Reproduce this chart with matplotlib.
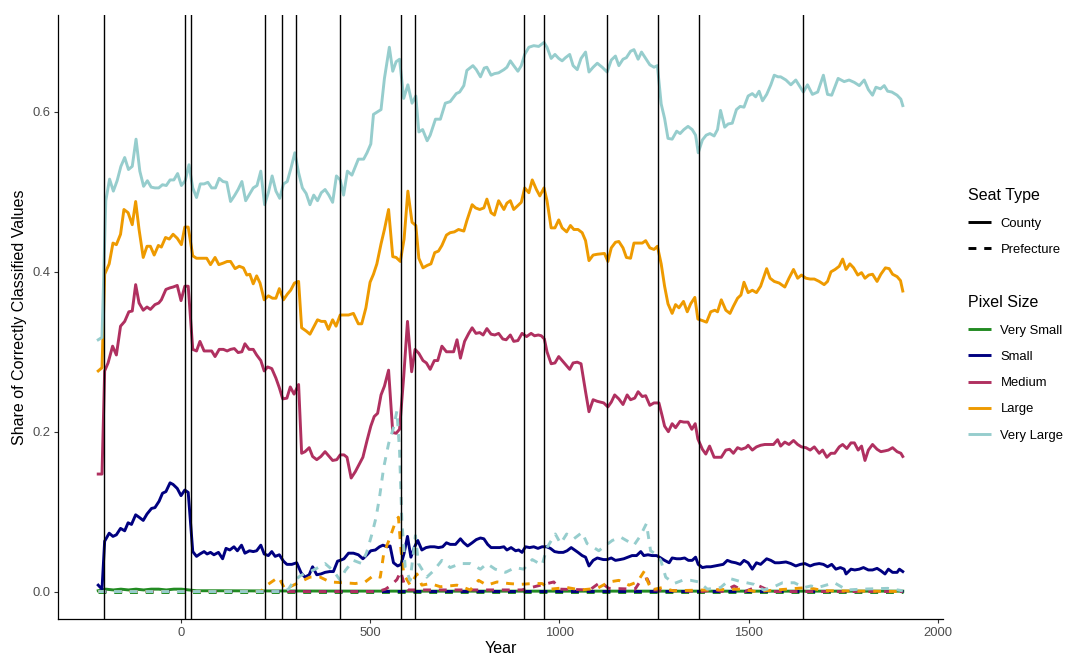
import matplotlib
matplotlib.use("Agg")
import matplotlib.pyplot as plt
from matplotlib.lines import Line2D

plt.rcParams['font.family'] = ['Liberation Sans', 'DejaVu Sans']

# ---------------- data ----------------
pixel_sizes = ["Very Small", "Small", "Medium", "Large", "Very Large"]
seat_types = ["County", "Prefecture"]
colors = {"Very Small": "#228B22", "Small": "#000080", "Medium": "#B03060",
          "Large": "#EE9A00", "Very Large": "#96CDCD"}

breaks_years = [-206, 9, 25, 220, 265, 304, 420, 581, 618, 907, 960, 1127, 1260, 1368, 1644]

# Very Small - County
yr_vs_c = [-220, -200, -180, -160, -140, -120, -100, -80, -60, -40, -20, 0, 20, 40, 100, 200,
           400, 600, 800, 1000, 1200, 1400, 1600, 1800, 1908]
vs_c = [0.001, 0.003, 0.002, 0.003, 0.002, 0.003, 0.002, 0.003, 0.003, 0.002, 0.003, 0.003, 0.002,
        0.001, 0.001, 0.0008, 0.0006, 0.0005, 0.0005, 0.0005, 0.0005, 0.0005, 0.0005, 0.0005, 0.0005]

# Very Small - Prefecture
yr_vs_p = [-220, 400, 1000, 1908]
vs_p = [0.0, 0.0, 0.0, 0.0]

# Small - County
yr_s_c = [-220, -210, -203, -191, -181, -172, -161, -150, -141, -132, -121, -112, -101, -91, -79, -70,
          -59, -50, -41, -30, -22, -11, -1, 9, 18, 30, 40, 49, 60, 68, 77, 86, 98, 109, 118, 128, 139,
          148, 159, 168, 180, 190, 199, 210, 219, 230, 239, 248, 259, 270, 279, 292, 305, 317, 327,
          338, 347, 358, 369, 380, 392, 402, 413, 420, 430, 442, 455, 468, 480, 491, 501, 513, 524,
          533, 544, 552, 561, 572, 581, 589, 598, 607, 616, 625, 636, 647, 658, 669, 680, 691, 701,
          711, 725, 738, 747, 757, 769, 780, 791, 800, 810, 819, 831, 842, 853, 861, 872, 884, 892,
          901, 910, 921, 932, 943, 954, 966, 976, 987, 998, 1010, 1020, 1031, 1040, 1049, 1060, 1069,
          1078, 1089, 1100, 1116, 1126, 1137, 1148, 1160, 1170, 1181, 1192, 1204, 1215, 1223, 1234,
          1245, 1257, 1268, 1278, 1290, 1298, 1310, 1320, 1331, 1341, 1351, 1360, 1367, 1378, 1389,
          1400, 1411, 1422, 1433, 1444, 1455, 1466, 1478, 1488, 1499, 1510, 1521, 1532, 1548, 1559,
          1570, 1581, 1599, 1612, 1625, 1637, 1649, 1663, 1674, 1687, 1698, 1709, 1720, 1731, 1743,
          1753, 1758, 1771, 1781, 1793, 1804, 1817, 1828, 1840, 1850, 1861, 1870, 1881, 1893, 1899, 1908]
s_c = [0.008, 0.003, 0.063, 0.073, 0.069, 0.071, 0.079, 0.076, 0.086, 0.084, 0.096, 0.093, 0.089, 0.097,
       0.104, 0.105, 0.113, 0.123, 0.125, 0.136, 0.134, 0.129, 0.120, 0.127, 0.124, 0.050, 0.044, 0.047,
       0.050, 0.047, 0.049, 0.046, 0.049, 0.041, 0.054, 0.052, 0.056, 0.051, 0.058, 0.048, 0.051, 0.050,
       0.051, 0.058, 0.047, 0.045, 0.050, 0.044, 0.046, 0.038, 0.034, 0.034, 0.036, 0.023, 0.018, 0.021,
       0.031, 0.021, 0.022, 0.024, 0.025, 0.025, 0.038, 0.039, 0.041, 0.048, 0.048, 0.046, 0.041, 0.046,
       0.051, 0.052, 0.056, 0.058, 0.056, 0.057, 0.036, 0.032, 0.034, 0.048, 0.069, 0.043, 0.055, 0.064,
       0.052, 0.055, 0.056, 0.056, 0.055, 0.056, 0.061, 0.059, 0.059, 0.066, 0.061, 0.057, 0.061, 0.065,
       0.067, 0.066, 0.059, 0.055, 0.055, 0.055, 0.056, 0.052, 0.055, 0.051, 0.052, 0.049, 0.056, 0.055,
       0.056, 0.054, 0.056, 0.056, 0.054, 0.050, 0.049, 0.049, 0.051, 0.055, 0.052, 0.049, 0.045, 0.043,
       0.032, 0.039, 0.042, 0.040, 0.040, 0.042, 0.039, 0.040, 0.041, 0.043, 0.045, 0.045, 0.050, 0.045,
       0.046, 0.045, 0.045, 0.042, 0.039, 0.036, 0.042, 0.041, 0.041, 0.042, 0.039, 0.039, 0.043, 0.034,
       0.030, 0.031, 0.031, 0.032, 0.033, 0.034, 0.039, 0.037, 0.036, 0.034, 0.039, 0.036, 0.028, 0.036,
       0.034, 0.041, 0.039, 0.036, 0.036, 0.037, 0.035, 0.032, 0.034, 0.035, 0.032, 0.034, 0.035, 0.034,
       0.031, 0.034, 0.028, 0.030, 0.028, 0.022, 0.028, 0.027, 0.028, 0.030, 0.027, 0.027, 0.029, 0.026,
       0.022, 0.028, 0.024, 0.024, 0.028, 0.025]

# Small - Prefecture
yr_s_p = [-220, 400, 1000, 1908]
s_p = [0.0005, 0.0005, 0.0005, 0.0005]

# Medium - County
yr_m_c = [-220, -210, -203, -194, -182, -172, -161, -150, -139, -130, -121, -112, -101, -91, -82, -70,
          -60, -53, -41, -30, -22, -11, -1, 9, 18, 30, 40, 49, 60, 71, 80, 89, 100, 111, 121, 130, 140,
          150, 160, 168, 179, 190, 199, 210, 219, 228, 239, 250, 259, 268, 279, 288, 298, 310, 318, 327,
          338, 347, 358, 369, 380, 391, 400, 411, 420, 430, 438, 449, 460, 471, 480, 491, 501, 510, 519,
          528, 537, 548, 559, 568, 577, 588, 598, 609, 618, 628, 639, 648, 658, 669, 678, 689, 701, 711,
          720, 729, 738, 749, 760, 769, 779, 789, 798, 808, 819, 829, 839, 850, 859, 870, 879, 890, 901,
          913, 925, 934, 944, 952, 960, 967, 978, 988, 998, 1007, 1018, 1027, 1036, 1047, 1057, 1069,
          1078, 1089, 1100, 1117, 1128, 1137, 1146, 1157, 1168, 1179, 1188, 1199, 1208, 1219, 1228, 1239,
          1250, 1263, 1272, 1278, 1288, 1298, 1307, 1319, 1329, 1340, 1350, 1359, 1366, 1378, 1387, 1397,
          1409, 1418, 1428, 1440, 1450, 1460, 1471, 1481, 1493, 1499, 1510, 1521, 1532, 1543, 1555, 1566,
          1577, 1585, 1596, 1607, 1619, 1630, 1640, 1652, 1663, 1674, 1687, 1696, 1707, 1718, 1728, 1740,
          1749, 1760, 1771, 1780, 1790, 1799, 1808, 1817, 1828, 1840, 1850, 1861, 1870, 1881, 1893, 1903, 1908]
m_c = [0.147, 0.147, 0.276, 0.286, 0.307, 0.296, 0.332, 0.338, 0.350, 0.351, 0.384, 0.361, 0.352, 0.356,
       0.353, 0.359, 0.361, 0.365, 0.378, 0.380, 0.381, 0.383, 0.364, 0.382, 0.382, 0.303, 0.301, 0.313,
       0.301, 0.301, 0.301, 0.294, 0.303, 0.303, 0.301, 0.303, 0.304, 0.299, 0.300, 0.310, 0.303, 0.303,
       0.296, 0.289, 0.276, 0.281, 0.279, 0.267, 0.255, 0.241, 0.242, 0.256, 0.247, 0.259, 0.173, 0.175,
       0.180, 0.169, 0.165, 0.169, 0.175, 0.169, 0.164, 0.165, 0.171, 0.171, 0.168, 0.142, 0.150, 0.160,
       0.168, 0.189, 0.207, 0.219, 0.223, 0.246, 0.257, 0.277, 0.199, 0.198, 0.203, 0.269, 0.338, 0.275,
       0.303, 0.298, 0.289, 0.286, 0.278, 0.289, 0.289, 0.307, 0.300, 0.300, 0.300, 0.315, 0.292, 0.313,
       0.323, 0.330, 0.323, 0.324, 0.321, 0.329, 0.322, 0.321, 0.323, 0.316, 0.315, 0.321, 0.313, 0.314,
       0.323, 0.319, 0.323, 0.320, 0.321, 0.320, 0.316, 0.300, 0.285, 0.286, 0.294, 0.289, 0.283, 0.278,
       0.286, 0.287, 0.285, 0.250, 0.225, 0.240, 0.238, 0.236, 0.231, 0.237, 0.246, 0.241, 0.234, 0.246,
       0.240, 0.242, 0.250, 0.244, 0.245, 0.233, 0.236, 0.236, 0.219, 0.207, 0.200, 0.210, 0.205, 0.213,
       0.212, 0.212, 0.203, 0.210, 0.191, 0.178, 0.172, 0.182, 0.168, 0.168, 0.168, 0.177, 0.178, 0.173,
       0.180, 0.178, 0.180, 0.183, 0.177, 0.181, 0.183, 0.184, 0.184, 0.184, 0.190, 0.182, 0.187, 0.184,
       0.189, 0.184, 0.181, 0.180, 0.177, 0.181, 0.173, 0.177, 0.168, 0.173, 0.173, 0.181, 0.184, 0.179,
       0.186, 0.186, 0.177, 0.182, 0.164, 0.177, 0.184, 0.178, 0.175, 0.176, 0.177, 0.180, 0.175, 0.173,
       0.169]

# Medium - Prefecture
yr_m_p = [-220, 520, 540, 555, 570, 580, 590, 600, 700, 800, 900, 950, 985, 1000, 1080, 1109, 1130,
          1200, 1215, 1232, 1245, 1380, 1409, 1430, 1462, 1490, 1528, 1560, 1908]
m_p = [0.0, 0.0, 0.003, 0.008, 0.015, 0.025, 0.008, 0.002, 0.002, 0.002, 0.002, 0.008, 0.012, 0.003,
       0.002, 0.012, 0.004, 0.003, 0.014, 0.016, 0.002, 0.0, 0.003, 0.0, 0.007, 0.0, 0.007, 0.0, 0.0]

# Large - County
yr_l_c = [-220, -210, -203, -191, -181, -172, -161, -152, -141, -130, -121, -112, -101, -91, -82, -72,
          -61, -53, -42, -32, -22, -11, 0, 9, 18, 30, 40, 53, 67, 77, 89, 99, 111, 121, 130, 142, 153,
          164, 173, 181, 190, 199, 208, 219, 230, 241, 250, 259, 270, 280, 289, 299, 310, 318, 330, 340,
          349, 360, 370, 380, 389, 400, 409, 420, 430, 442, 455, 468, 477, 488, 499, 508, 517, 528, 537,
          548, 559, 568, 579, 589, 599, 610, 620, 628, 639, 650, 660, 670, 680, 689, 701, 711, 722, 733,
          747, 755, 769, 778, 789, 800, 808, 819, 828, 839, 853, 861, 870, 879, 890, 899, 908, 919, 928,
          939, 948, 959, 967, 978, 988, 998, 1007, 1019, 1029, 1038, 1049, 1060, 1069, 1078, 1089, 1100,
          1119, 1128, 1137, 1148, 1157, 1168, 1177, 1188, 1197, 1208, 1219, 1228, 1239, 1250, 1259, 1269,
          1278, 1287, 1298, 1307, 1316, 1328, 1338, 1347, 1358, 1366, 1378, 1389, 1400, 1411, 1418, 1428,
          1440, 1451, 1460, 1471, 1480, 1488, 1499, 1510, 1521, 1532, 1548, 1557, 1568, 1581, 1596, 1607,
          1619, 1630, 1640, 1652, 1663, 1674, 1687, 1700, 1709, 1718, 1729, 1740, 1749, 1758, 1768, 1778,
          1789, 1799, 1808, 1818, 1828, 1840, 1850, 1862, 1872, 1881, 1893, 1902, 1908]
l_c = [0.276, 0.280, 0.397, 0.410, 0.436, 0.434, 0.447, 0.478, 0.474, 0.459, 0.488, 0.453, 0.418, 0.432,
       0.432, 0.421, 0.433, 0.431, 0.443, 0.441, 0.447, 0.442, 0.434, 0.456, 0.456, 0.420, 0.417, 0.417,
       0.417, 0.409, 0.418, 0.409, 0.411, 0.413, 0.413, 0.404, 0.407, 0.405, 0.396, 0.397, 0.385, 0.395,
       0.386, 0.365, 0.370, 0.367, 0.367, 0.379, 0.365, 0.372, 0.377, 0.386, 0.388, 0.330, 0.326, 0.322,
       0.330, 0.340, 0.338, 0.338, 0.328, 0.340, 0.332, 0.346, 0.346, 0.346, 0.348, 0.335, 0.335, 0.355,
       0.387, 0.397, 0.410, 0.435, 0.453, 0.478, 0.419, 0.418, 0.413, 0.441, 0.501, 0.462, 0.458, 0.417,
       0.405, 0.408, 0.410, 0.424, 0.426, 0.433, 0.446, 0.449, 0.450, 0.453, 0.451, 0.464, 0.484, 0.480,
       0.478, 0.480, 0.491, 0.474, 0.471, 0.489, 0.478, 0.486, 0.489, 0.478, 0.483, 0.487, 0.505, 0.499,
       0.515, 0.503, 0.495, 0.505, 0.489, 0.455, 0.455, 0.465, 0.455, 0.450, 0.458, 0.453, 0.453, 0.449,
       0.439, 0.414, 0.421, 0.422, 0.423, 0.413, 0.430, 0.437, 0.438, 0.430, 0.418, 0.417, 0.436, 0.436,
       0.436, 0.439, 0.430, 0.428, 0.432, 0.410, 0.382, 0.360, 0.348, 0.359, 0.355, 0.363, 0.350, 0.360,
       0.368, 0.341, 0.339, 0.337, 0.350, 0.352, 0.350, 0.365, 0.352, 0.348, 0.357, 0.367, 0.371, 0.387,
       0.374, 0.377, 0.374, 0.382, 0.404, 0.392, 0.388, 0.386, 0.381, 0.392, 0.403, 0.392, 0.396, 0.392,
       0.391, 0.391, 0.388, 0.384, 0.388, 0.400, 0.403, 0.407, 0.416, 0.403, 0.410, 0.405, 0.396, 0.399,
       0.392, 0.396, 0.397, 0.388, 0.397, 0.405, 0.404, 0.397, 0.394, 0.389, 0.376]

# Large - Prefecture
yr_l_p = [-220, 210, 226, 257, 274, 314, 340, 367, 393, 429, 460, 486, 508, 526, 535, 552, 566, 574,
          581, 588, 605, 623, 636, 658, 685, 729, 764, 786, 808, 835, 866, 897, 928, 954, 976, 1020,
          1056, 1100, 1131, 1157, 1184, 1206, 1225, 1232, 1243, 1272, 1300, 1480, 1520, 1656, 1700, 1908]
l_p = [0.0, 0.0, 0.008, 0.018, 0.003, 0.012, 0.018, 0.018, 0.012, 0.011, 0.010, 0.012, 0.020, 0.018,
       0.047, 0.068, 0.087, 0.093, 0.051, 0.022, 0.008, 0.022, 0.008, 0.010, 0.006, 0.008, 0.002, 0.014,
       0.008, 0.012, 0.010, 0.009, 0.010, 0.010, 0.003, 0.005, 0.002, 0.004, 0.012, 0.014, 0.008, 0.012,
       0.026, 0.014, 0.002, 0.005, 0.001, 0.003, 0.0, 0.005, 0.001, 0.0]

# Very Large - County
yr_vl_c = [-220, -210, -200, -190, -180, -170, -160, -150, -140, -130, -120, -110, -100, -90, -80, -70,
           -60, -50, -40, -30, -20, -10, 0, 10, 20, 30, 40, 50, 60, 70, 80, 90, 100, 110, 120, 130, 140,
           150, 160, 170, 180, 190, 200, 210, 220, 230, 240, 250, 260, 270, 280, 290, 300, 310, 320, 330,
           340, 350, 360, 370, 380, 390, 400, 410, 420, 429, 439, 451, 468, 482, 491, 501, 508, 528, 537,
           550, 559, 568, 577, 588, 599, 610, 620, 628, 638, 650, 658, 672, 685, 698, 711, 727, 736, 747,
           755, 771, 780, 791, 801, 808, 819, 828, 839, 853, 861, 870, 879, 890, 899, 908, 919, 932, 945,
           959, 967, 978, 988, 998, 1007, 1016, 1027, 1036, 1047, 1057, 1069, 1078, 1089, 1100, 1113, 1126,
           1137, 1148, 1157, 1168, 1177, 1188, 1197, 1208, 1217, 1228, 1239, 1250, 1259, 1269, 1278, 1287,
           1298, 1310, 1319, 1329, 1340, 1351, 1360, 1367, 1378, 1388, 1398, 1409, 1418, 1426, 1437, 1446,
           1457, 1468, 1478, 1488, 1499, 1510, 1519, 1528, 1537, 1548, 1559, 1568, 1578, 1585, 1599, 1612,
           1625, 1637, 1645, 1656, 1669, 1683, 1698, 1709, 1720, 1737, 1753, 1766, 1780, 1793, 1806, 1817,
           1828, 1837, 1849, 1859, 1868, 1879, 1893, 1903, 1908]
vl_c = [0.315, 0.318, 0.489, 0.516, 0.501, 0.514, 0.532, 0.543, 0.528, 0.532, 0.566, 0.526, 0.507, 0.514,
        0.506, 0.505, 0.505, 0.509, 0.508, 0.515, 0.515, 0.523, 0.508, 0.514, 0.534, 0.505, 0.493, 0.510,
        0.510, 0.512, 0.505, 0.505, 0.517, 0.513, 0.512, 0.488, 0.495, 0.503, 0.513, 0.489, 0.497, 0.505,
        0.508, 0.526, 0.484, 0.499, 0.520, 0.501, 0.492, 0.510, 0.513, 0.530, 0.549, 0.524, 0.505, 0.498,
        0.484, 0.496, 0.489, 0.499, 0.503, 0.496, 0.487, 0.520, 0.515, 0.496, 0.526, 0.521, 0.541, 0.541,
        0.549, 0.560, 0.597, 0.603, 0.642, 0.681, 0.651, 0.663, 0.666, 0.617, 0.634, 0.611, 0.620, 0.575,
        0.578, 0.564, 0.571, 0.591, 0.591, 0.611, 0.613, 0.623, 0.625, 0.633, 0.652, 0.658, 0.653, 0.644,
        0.655, 0.656, 0.646, 0.648, 0.649, 0.653, 0.656, 0.664, 0.658, 0.651, 0.658, 0.672, 0.681, 0.683,
        0.682, 0.687, 0.681, 0.667, 0.672, 0.667, 0.664, 0.668, 0.672, 0.658, 0.653, 0.667, 0.675, 0.650,
        0.656, 0.661, 0.656, 0.650, 0.665, 0.670, 0.658, 0.666, 0.668, 0.676, 0.678, 0.666, 0.675, 0.667,
        0.659, 0.656, 0.658, 0.610, 0.592, 0.567, 0.566, 0.576, 0.573, 0.578, 0.582, 0.578, 0.571, 0.549,
        0.565, 0.571, 0.573, 0.570, 0.578, 0.602, 0.581, 0.585, 0.586, 0.603, 0.607, 0.606, 0.620, 0.623,
        0.619, 0.626, 0.614, 0.622, 0.634, 0.646, 0.644, 0.644, 0.640, 0.634, 0.640, 0.631, 0.625, 0.634,
        0.622, 0.625, 0.646, 0.622, 0.621, 0.642, 0.638, 0.640, 0.637, 0.633, 0.640, 0.628, 0.621, 0.631,
        0.629, 0.633, 0.626, 0.625, 0.621, 0.616, 0.608]

# Very Large - Prefecture
yr_vl_p = [-220, 270, 283, 296, 315, 354, 380, 402, 420, 433, 455, 477, 490, 504, 515, 524, 535, 548,
           561, 570, 577, 583, 592, 605, 619, 627, 649, 667, 689, 711, 738, 764, 791, 808, 830, 857, 883,
           905, 928, 954, 967, 989, 1003, 1019, 1038, 1060, 1073, 1091, 1104, 1117, 1140, 1162, 1184,
           1197, 1213, 1230, 1241, 1254, 1268, 1281, 1303, 1325, 1347, 1369, 1391, 1426, 1453, 1475, 1515,
           1540, 1563, 1590, 1621, 1647, 1665, 1683, 1727, 1760, 1800, 1868, 1908]
vl_p = [0.0, 0.0, 0.003, 0.012, 0.020, 0.028, 0.035, 0.026, 0.014, 0.026, 0.039, 0.035, 0.049, 0.072,
        0.093, 0.118, 0.155, 0.185, 0.205, 0.226, 0.176, 0.089, 0.030, 0.014, 0.070, 0.035, 0.018, 0.026,
        0.039, 0.030, 0.035, 0.035, 0.028, 0.035, 0.028, 0.024, 0.030, 0.028, 0.040, 0.033, 0.055, 0.072,
        0.060, 0.072, 0.066, 0.074, 0.060, 0.055, 0.051, 0.056, 0.064, 0.068, 0.062, 0.058, 0.069, 0.085,
        0.051, 0.047, 0.039, 0.018, 0.010, 0.014, 0.014, 0.012, 0.003, 0.005, 0.016, 0.013, 0.009, 0.002,
        0.005, 0.011, 0.011, 0.005, 0.007, 0.005, 0.011, 0.002, 0.003, 0.004, 0.001]

series = {
    ("Very Small", "County"): (yr_vs_c, vs_c),
    ("Very Small", "Prefecture"): (yr_vs_p, vs_p),
    ("Small", "County"): (yr_s_c, s_c),
    ("Small", "Prefecture"): (yr_s_p, s_p),
    ("Medium", "County"): (yr_m_c, m_c),
    ("Medium", "Prefecture"): (yr_m_p, m_p),
    ("Large", "County"): (yr_l_c, l_c),
    ("Large", "Prefecture"): (yr_l_p, l_p),
    ("Very Large", "County"): (yr_vl_c, vl_c),
    ("Very Large", "Prefecture"): (yr_vl_p, vl_p),
}

# ---------------- figure ----------------
fig = plt.figure(figsize=(10.66, 6.55), dpi=100)
ax = fig.add_axes([58 / 1066, 36 / 655, 885 / 1066, 604 / 655])

LW = 2.1
dash = (0, (2.7, 2.7))
TITLE_FS = 11.5
LABEL_FS = 9.4

for ps in pixel_sizes:
    for st in seat_types:
        x, y = series[(ps, st)]
        ax.plot(x, y, color=colors[ps], lw=LW,
                linestyle='-' if st == "County" else dash,
                solid_joinstyle='round', dash_capstyle='butt')

for b in breaks_years:
    ax.axvline(b, color='black', lw=1.0, zorder=5)

xmin, xmax = -220, 1908
xr = xmax - xmin
ax.set_xlim(xmin - 0.05 * xr, xmax + 0.05 * xr)
ymax = 0.687
ax.set_ylim(-0.05 * ymax, ymax * 1.05)

ax.set_xticks([0, 500, 1000, 1500, 2000])
ax.set_yticks([0.0, 0.2, 0.4, 0.6])
ax.set_yticklabels(["0.0", "0.2", "0.4", "0.6"])

for s in ['top', 'right']:
    ax.spines[s].set_visible(False)
for s in ['left', 'bottom']:
    ax.spines[s].set_color('black')
    ax.spines[s].set_linewidth(0.9)

ax.tick_params(axis='both', which='major', length=3, width=0.8, color='#333333',
               labelcolor='#4D4D4D', labelsize=LABEL_FS, pad=2.5)

ax.set_xlabel("Year", fontsize=TITLE_FS, color='black', labelpad=2)
ax.set_ylabel("Share of Correctly Classified Values", fontsize=TITLE_FS, color='black', labelpad=4)

# legends
def key(color, ls):
    return Line2D([0], [0], color=color, lw=LW, linestyle=ls,
                  solid_capstyle='butt', dash_capstyle='butt')

seat_handles = [key('black', '-'), key('black', dash)]
leg_kw = dict(loc='upper left', frameon=False, fontsize=LABEL_FS, title_fontsize=TITLE_FS,
              handlelength=1.7, handletextpad=0.75, labelspacing=1.08, borderpad=0.3,
              alignment='left')
leg1 = fig.legend(seat_handles, seat_types, title="Seat Type",
                  bbox_to_anchor=(958 / 1066, 1 - 178 / 655), **leg_kw)
px_handles = [key(colors[p], '-') for p in pixel_sizes]
leg2 = fig.legend(px_handles, pixel_sizes, title="Pixel Size",
                  bbox_to_anchor=(958 / 1066, 1 - 285 / 655), **leg_kw)

fig.savefig("out.png", dpi=100)
